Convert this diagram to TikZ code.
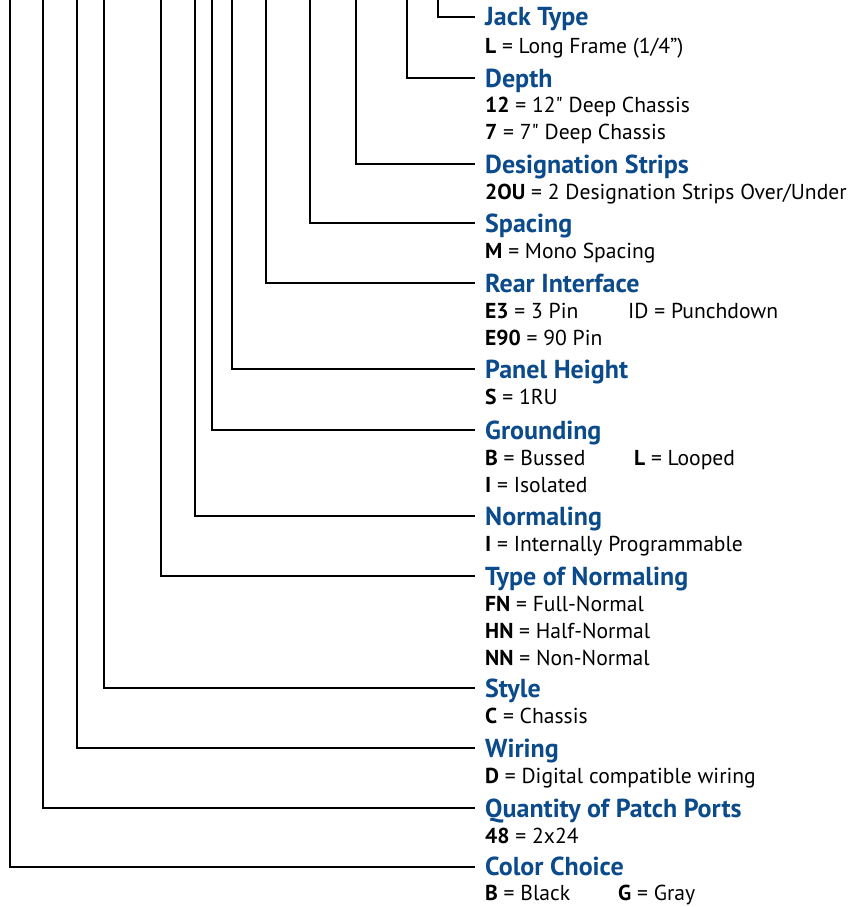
\documentclass[tikz,border=0pt]{standalone}
\usepackage{fontspec}
\setmainfont{PT Sans}[Ligatures=TeXOff]
\definecolor{hdblue}{HTML}{0B4A8B}
\tikzset{
  x=1pt, y=-1pt,
  conn/.style={line width=2.7pt, draw=black, line join=miter},
  hd/.style={anchor=base west, inner sep=0pt, text=hdblue, font=\fontsize{26}{30}\selectfont\bfseries},
  ds/.style={anchor=base west, inner sep=0pt, text=black, font=\fontsize{21.6}{26}\selectfont},
}
\begin{document}
\begin{tikzpicture}
\useasboundingbox (0,0) rectangle (849,907);
% item: x of vertical line, y of horizontal line
\foreach \n/\xx/\yy in {a/438/17, b/407/78, c/356/164, d/310/223, e/266/283, f/232/369, g/212/430, h/195/516, i/161/576, j/104/688, k/77/748, l/43/808, m/10/867} {
  \coordinate (t\n) at (\xx,0);
  \coordinate (e\n) at (475,\yy);
  \draw[conn] (t\n) |- (e\n);
}
\node[hd] (ha) at (485,26) {Jack Type};
\node[ds] (da1) at (485,54) {\textbf{L} = Long Frame (1/4”)};

\node[hd] (hb) at (485,87) {Depth};
\node[ds] (db1) at (485,112) {\textbf{12} = 12" Deep Chassis};
\node[ds] (db2) at (485,139) {\textbf{7} = 7" Deep Chassis};

\node[hd] (hc) at (485,173) {Designation Strips};
\node[ds] (dc1) at (485,199) {\textbf{2OU} = 2 Designation Strips Over/Under};

\node[hd] (hd) at (485,232) {Spacing};
\node[ds] (dd1) at (485,258) {\textbf{M} = Mono Spacing};

\node[hd] (he) at (485,292) {Rear Interface};
\node[ds] (de1) at (485,318) {\textbf{E3} = 3 Pin};
\node[ds] (de2) at (628,318) {ID = Punchdown};
\node[ds] (de3) at (485,345) {\textbf{E90} = 90 Pin};

\node[hd] (hf) at (485,378) {Panel Height};
\node[ds] (df1) at (485,404) {\textbf{S} = 1RU};

\node[hd] (hg) at (485,439) {Grounding};
\node[ds] (dg1) at (485,465) {\textbf{B} = Bussed};
\node[ds] (dg2) at (634,465) {\textbf{L} = Looped};
\node[ds] (dg3) at (485,492) {\textbf{I} = Isolated};

\node[hd] (hh) at (485,525) {Normaling};
\node[ds] (dh1) at (485,551) {\textbf{I} = Internally Programmable};

\node[hd] (hi) at (485,585) {Type of Normaling};
\node[ds] (di1) at (485,611) {\textbf{FN} = Full-Normal};
\node[ds] (di2) at (485,638) {\textbf{HN} = Half-Normal};
\node[ds] (di3) at (485,665) {\textbf{NN} = Non-Normal};

\node[hd] (hj) at (485,697) {Style};
\node[ds] (dj1) at (485,723) {\textbf{C} = Chassis};

\node[hd] (hk) at (485,757) {Wiring};
\node[ds] (dk1) at (485,783) {\textbf{D} = Digital compatible wiring};

\node[hd] (hl) at (485,817) {Quantity of Patch Ports};
\node[ds] (dl1) at (485,843) {\textbf{48} = 2x24};

\node[hd] (hm) at (485,875) {Color Choice};
\node[ds] (dm1) at (485,900) {\textbf{B} = Black};
\node[ds] (dm2) at (618,900) {\textbf{G} = Gray};
\end{tikzpicture}
\end{document}
